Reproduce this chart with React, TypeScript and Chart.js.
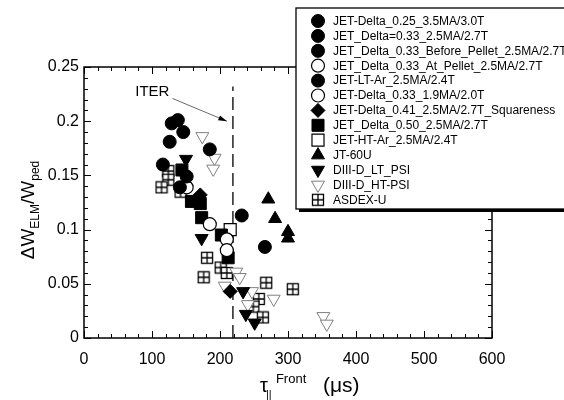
import React, { useEffect, useRef } from 'react';
import { Chart, registerables } from 'chart.js';
Chart.register(...registerables);

const FONT = '"Liberation Sans", Arial, Helvetica, sans-serif';

// ---- data (tau_parallel front [us], dW_ELM / W_ped) ----
const seriesNames = [
  'JET-Delta_0.25_3.5MA/3.0T',
  'JET_Delta=0.33_2.5MA/2.7T',
  'JET_Delta_0.33_Before_Pellet_2.5MA/2.7T',
  'JET_Delta_0.33_At_Pellet_2.5MA/2.7T',
  'JET-LT-Ar_2.5MA/2.4T',
  'JET-Delta_0.33_1.9MA/2.0T',
  'JET-Delta_0.41_2.5MA/2.7T_Squareness',
  'JET_Delta_0.50_2.5MA/2.7T',
  'JET-HT-Ar_2.5MA/2.4T',
  'JT-60U',
  'DIII-D_LT_PSI',
  'DIII-D_HT-PSI',
  'ASDEX-U',
];
const jetDelta025: [number, number][] = [[129, 0.198], [138, 0.201], [146, 0.19], [126, 0.181]];
const jetDelta033: [number, number][] = [[116, 0.16], [151, 0.149]];
const jetBeforePellet: [number, number][] = [[185, 0.174], [141, 0.139]];
const jetAtPellet: [number, number][] = [[151, 0.139]];
const jetLTAr: [number, number][] = [[232, 0.113], [266, 0.084]];
const jetDelta033Low: [number, number][] = [[185, 0.105], [210, 0.091], [210, 0.081]];
const jetSquareness: [number, number][] = [[171, 0.132], [215, 0.043]];
const jetDelta050: [number, number][] = [[144, 0.155], [158, 0.126], [171, 0.124], [173, 0.111], [202, 0.095], [212, 0.074]];
const jetHTAr: [number, number][] = [[215, 0.1]];
const jt60u: [number, number][] = [[271, 0.128], [281, 0.11], [300, 0.098], [300, 0.092]];
const diiidLT: [number, number][] = [[150, 0.165], [173, 0.092], [234, 0.043], [238, 0.022], [251, 0.014]];
const diiidHT: [number, number][] = [
  [174, 0.186], [192, 0.166], [190, 0.156], [224, 0.061], [229, 0.056], [207, 0.048],
  [247, 0.043], [279, 0.036], [241, 0.031], [352, 0.02], [357, 0.013],
];
const asdexU: [number, number][] = [
  [124, 0.154], [124, 0.146], [114, 0.139], [142, 0.135], [181, 0.074], [201, 0.065],
  [210, 0.06], [176, 0.056], [268, 0.051], [307, 0.045], [257, 0.036], [249, 0.029], [263, 0.019],
];
const xTickValues = [0, 100, 200, 300, 400, 500, 600];
const yTickValues = [0, 0.05, 0.1, 0.15, 0.2, 0.25];
const iterTau = 219;
const iterLineTop = 0.232;
const iterLabel = 'ITER';

function makeGridSquare(): HTMLCanvasElement {
  const c = document.createElement('canvas');
  c.width = 14;
  c.height = 14;
  const g = c.getContext('2d')!;
  g.fillStyle = '#fff';
  g.fillRect(1, 1, 12, 12);
  g.strokeStyle = '#000';
  g.lineWidth = 1.3;
  g.strokeRect(1.5, 1.5, 11, 11);
  g.beginPath();
  g.moveTo(7, 1.5);
  g.lineTo(7, 12.5);
  g.moveTo(1.5, 7);
  g.lineTo(12.5, 7);
  g.stroke();
  return c;
}

type Mk = { style: any; r: number; rot: number; fill: string; stroke: string; bw: number };

function drawMarker(ctx: CanvasRenderingContext2D, m: Mk, x: number, y: number) {
  ctx.save();
  ctx.fillStyle = m.fill;
  ctx.strokeStyle = m.stroke;
  ctx.lineWidth = m.bw;
  if (typeof m.style !== 'string') {
    ctx.drawImage(m.style, x - m.style.width / 2, y - m.style.height / 2);
    ctx.restore();
    return;
  }
  ctx.beginPath();
  const r = m.r;
  if (m.style === 'circle') {
    ctx.arc(x, y, r, 0, Math.PI * 2);
  } else if (m.style === 'rect') {
    const s = Math.SQRT1_2 * r;
    ctx.rect(x - s, y - s, 2 * s, 2 * s);
  } else if (m.style === 'rectRot') {
    ctx.moveTo(x, y - r);
    ctx.lineTo(x + r, y);
    ctx.lineTo(x, y + r);
    ctx.lineTo(x - r, y);
    ctx.closePath();
  } else if (m.style === 'triangle') {
    let a = (m.rot * Math.PI) / 180;
    ctx.moveTo(x + Math.sin(a) * r, y - Math.cos(a) * r);
    for (let k = 0; k < 2; k++) {
      a += (2 * Math.PI) / 3;
      ctx.lineTo(x + Math.sin(a) * r, y - Math.cos(a) * r);
    }
    ctx.closePath();
  }
  ctx.fill();
  ctx.stroke();
  ctx.restore();
}

export default function App() {
  const ref = useRef<HTMLCanvasElement>(null);
  useEffect(() => {
    if (!ref.current) return;
    const grid = makeGridSquare();
    const filledCircle: Mk = { style: 'circle', r: 6.5, rot: 0, fill: '#000', stroke: '#000', bw: 1 };
    const openCircle: Mk = { style: 'circle', r: 6.5, rot: 0, fill: '#fff', stroke: '#000', bw: 1.2 };
    const markers: Mk[] = [
      filledCircle,
      filledCircle,
      filledCircle,
      openCircle,
      filledCircle,
      openCircle,
      { style: 'rectRot', r: 7, rot: 0, fill: '#000', stroke: '#000', bw: 1 },
      { style: 'rect', r: 8.5, rot: 0, fill: '#000', stroke: '#000', bw: 1 },
      { style: 'rect', r: 8.5, rot: 0, fill: '#fff', stroke: '#000', bw: 1.2 },
      { style: 'triangle', r: 7.5, rot: 0, fill: '#000', stroke: '#000', bw: 1 },
      { style: 'triangle', r: 7.5, rot: 180, fill: '#000', stroke: '#000', bw: 1 },
      { style: 'triangle', r: 7.5, rot: 180, fill: '#fff', stroke: '#808080', bw: 1 },
      { style: grid, r: 7, rot: 0, fill: '#fff', stroke: '#000', bw: 1 },
    ];
    const seriesData = [
      jetDelta025, jetDelta033, jetBeforePellet, jetAtPellet, jetLTAr, jetDelta033Low,
      jetSquareness, jetDelta050, jetHTAr, jt60u, diiidLT, diiidHT, asdexU,
    ];
    const datasets = seriesData.map((arr, i) => {
      const m = markers[i];
      return {
        label: seriesNames[i],
        data: arr.map(([x, y]) => ({ x, y })),
        pointStyle: m.style,
        pointRadius: m.r,
        pointRotation: m.rot,
        backgroundColor: m.fill,
        borderColor: m.stroke,
        borderWidth: m.bw,
        showLine: false,
      };
    });

    const decor = {
      id: 'decor',
      beforeDatasetsDraw(chart: any) {
        const { ctx, scales } = chart;
        const xs = scales.x, ys = scales.y;
        ctx.save();
        // ITER dashed line
        const xp = xs.getPixelForValue(iterTau);
        ctx.strokeStyle = '#000';
        ctx.lineWidth = 1.3;
        ctx.setLineDash([13, 6]);
        ctx.beginPath();
        ctx.moveTo(xp, ys.getPixelForValue(0));
        ctx.lineTo(xp, ys.getPixelForValue(iterLineTop));
        ctx.stroke();
        ctx.setLineDash([]);
        // arrow
        const tipX = xp - 6, tipY = ys.getPixelForValue(0.2);
        const sx = xs.getPixelForValue(130), sy = ys.getPixelForValue(0.221);
        ctx.lineWidth = 0.8;
        ctx.strokeStyle = '#444';
        ctx.beginPath();
        ctx.moveTo(sx, sy);
        ctx.lineTo(tipX, tipY);
        ctx.stroke();
        const ang = Math.atan2(tipY - sy, tipX - sx);
        ctx.fillStyle = '#000';
        ctx.beginPath();
        ctx.moveTo(tipX, tipY);
        ctx.lineTo(tipX - 9 * Math.cos(ang - 0.3), tipY - 9 * Math.sin(ang - 0.3));
        ctx.lineTo(tipX - 9 * Math.cos(ang + 0.3), tipY - 9 * Math.sin(ang + 0.3));
        ctx.closePath();
        ctx.fill();
        ctx.font = `15px ${FONT}`;
        ctx.textAlign = 'right';
        ctx.textBaseline = 'alphabetic';
        ctx.fillText(iterLabel, sx - 3, sy - 2);
        ctx.restore();
      },
      afterDraw(chart: any) {
        const { ctx, scales } = chart;
        const xs = scales.x, ys = scales.y;
        const ca = chart.chartArea;
        ctx.save();
        // frame
        ctx.strokeStyle = '#000';
        ctx.lineWidth = 1.5;
        ctx.strokeRect(ca.left, ca.top, ca.right - ca.left, ca.bottom - ca.top);
        // ticks (inward, all sides)
        ctx.lineWidth = 1;
        ctx.beginPath();
        for (let v = 0; v <= 600; v += 20) {
          const p = Math.round(xs.getPixelForValue(v)) + 0.5;
          const len = v % 100 === 0 ? 7 : 4;
          ctx.moveTo(p, ca.bottom);
          ctx.lineTo(p, ca.bottom - len);
          ctx.moveTo(p, ca.top);
          ctx.lineTo(p, ca.top + len);
        }
        for (let k = 0; k <= 25; k++) {
          const p = Math.round(ys.getPixelForValue(k / 100)) + 0.5;
          const len = k % 5 === 0 ? 7 : 4;
          ctx.moveTo(ca.left, p);
          ctx.lineTo(ca.left + len, p);
          ctx.moveTo(ca.right, p);
          ctx.lineTo(ca.right - len, p);
        }
        ctx.stroke();

        // y-axis title
        ctx.fillStyle = '#000';
        ctx.textBaseline = 'alphabetic';
        ctx.textAlign = 'left';
        const big = `19px ${FONT}`, small = `12px ${FONT}`;
        const yParts: [string, string, number][] = [['ΔW', big, 0], ['ELM', small, 5], ['/W', big, 0], ['ped', small, 5]];
        ctx.save();
        ctx.translate(34, 210);
        ctx.rotate(-Math.PI / 2);
        let w = 0;
        yParts.forEach(([t, f]) => { ctx.font = f; w += ctx.measureText(t).width; });
        let cx = -w / 2;
        yParts.forEach(([t, f, dy]) => { ctx.font = f; ctx.fillText(t, cx, dy); cx += ctx.measureText(t).width; });
        ctx.restore();

        // x-axis title
        const bx = 260, by = 392;
        ctx.font = `20px ${FONT}`;
        ctx.fillText('τ', bx, by);
        const tw = ctx.measureText('τ').width;
        ctx.font = `11px ${FONT}`;
        ctx.fillText('||', bx + tw - 2, by + 6);
        ctx.font = `13px ${FONT}`;
        ctx.fillText('Front', bx + tw + 8, by - 9);
        ctx.font = `21px ${FONT}`;
        ctx.fillText('(μs)', 323, by);

        // legend box
        const L = 296, T = 8, R = 572, B = 209;
        ctx.fillStyle = '#000';
        ctx.fillRect(L + 3, B, R - L, 3);
        ctx.fillStyle = '#fff';
        ctx.fillRect(L, T, R - L, B - T);
        ctx.strokeStyle = '#000';
        ctx.lineWidth = 1.3;
        ctx.strokeRect(L, T, R - L, B - T);
        ctx.font = `12px ${FONT}`;
        ctx.textBaseline = 'middle';
        ctx.textAlign = 'left';
        seriesNames.forEach((name, i) => {
          const yy = 21 + i * 14.9;
          drawMarker(ctx, markers[i], 318, yy);
          ctx.fillStyle = '#000';
          ctx.fillText(name, 333, yy + 0.5);
        });
        ctx.restore();
      },
    };

    const chart = new Chart(ref.current, {
      type: 'scatter',
      data: { datasets: datasets as any },
      options: {
        responsive: false,
        animation: false,
        layout: { padding: { left: 0, right: 72, top: 67, bottom: 0 } },
        plugins: { legend: { display: false }, tooltip: { enabled: false } },
        scales: {
          x: {
            type: 'linear',
            min: 0,
            max: 600,
            afterFit: (s: any) => { s.height = 62; },
            afterBuildTicks: (s: any) => { s.ticks = xTickValues.map((v) => ({ value: v })); },
            grid: { display: false, drawTicks: false },
            border: { display: false },
            ticks: { color: '#000', padding: 12, font: { family: FONT, size: 16 }, maxRotation: 0, callback: (v: any) => String(v) },
          },
          y: {
            type: 'linear',
            min: 0,
            max: 0.25,
            afterFit: (s: any) => { s.width = 84; },
            afterBuildTicks: (s: any) => { s.ticks = yTickValues.map((v) => ({ value: v })); },
            grid: { display: false, drawTicks: false },
            border: { display: false },
            ticks: { color: '#000', padding: 5, font: { family: FONT, size: 16 }, callback: (v: any) => String(+Number(v).toFixed(2)) },
          },
        },
      },
      plugins: [decor],
    });
    return () => chart.destroy();
  }, []);
  return (
    <div style={{ position: 'absolute', left: 0, top: 0, width: 564, height: 400, background: '#fff' }}>
      <canvas ref={ref} width={564} height={400} style={{ display: 'block', width: 564, height: 400 }} />
    </div>
  );
}
